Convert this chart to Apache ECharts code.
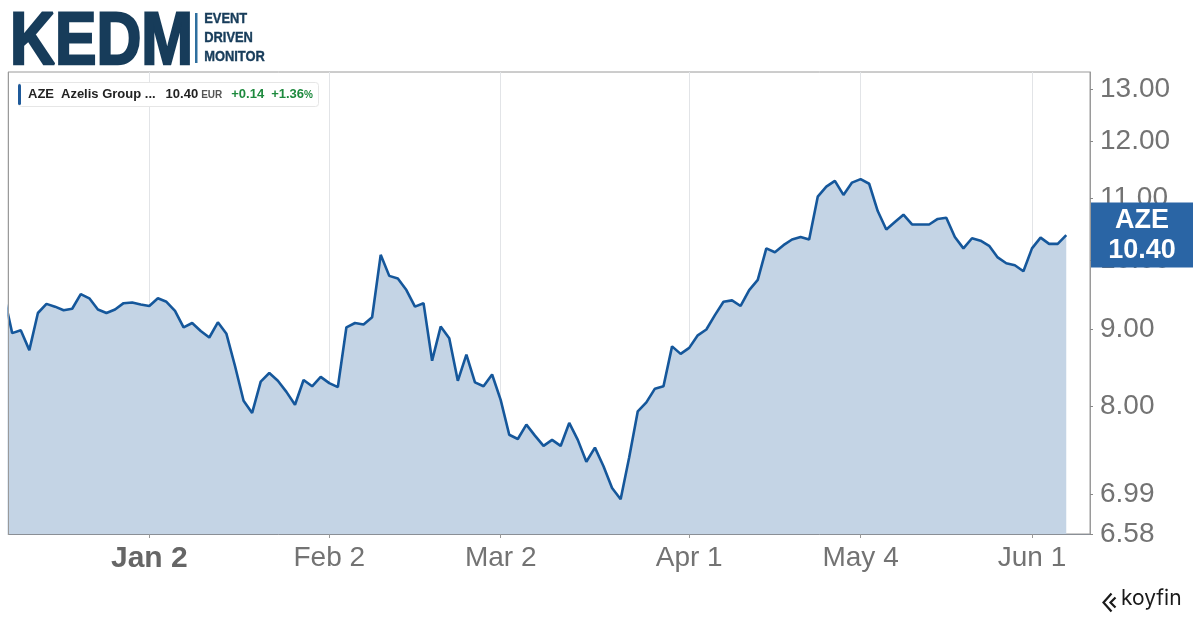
<!DOCTYPE html>
<html>
<head>
<meta charset="utf-8">
<script src="https://cdn.jsdelivr.net/npm/echarts@6/dist/echarts.min.js"></script>
<style>
html,body{margin:0;padding:0;background:#fff;}
#chart{width:1200px;height:620px;}
</style>
</head>
<body>
<div id="chart"></div>
<script>
// Trading-day closes (index = trading day, 0 = 5 Dec)
var prices = [
9.50, 8.95, 8.99, 8.72, 9.23, 9.36, 9.32, 9.27, 9.29, 9.50,
9.44, 9.28, 9.23, 9.28, 9.37, 9.38, 9.35, 9.33, 9.44, 9.39,
9.26, 9.03, 9.09, 8.98, 8.89, 9.10, 8.94, 8.51, 8.07, 7.92,
8.31, 8.42, 8.32, 8.18, 8.02, 8.33, 8.25, 8.37, 8.29, 8.24,
9.03, 9.09, 9.07, 9.17, 10.09, 9.77, 9.73, 9.56, 9.32, 9.37,
8.58, 9.04, 8.88, 8.32, 8.66, 8.30, 8.25, 8.40, 8.08, 7.66,
7.61, 7.78, 7.65, 7.53, 7.60, 7.53, 7.80, 7.60, 7.35, 7.51,
7.30, 7.06, 6.94, 7.40, 7.94, 8.05, 8.22, 8.25, 8.77, 8.67,
8.75, 8.92, 9.00, 9.20, 9.39, 9.41, 9.33, 9.56, 9.71, 10.19,
10.13, 10.24, 10.33, 10.37, 10.33, 11.03, 11.20, 11.30, 11.06, 11.27,
11.33, 11.25, 10.79, 10.49, 10.61, 10.73, 10.57, 10.57, 10.57, 10.66,
10.68, 10.37, 10.19, 10.35, 10.31, 10.23, 10.05, 9.96, 9.93, 9.84,
10.19, 10.36, 10.26, 10.26, 10.40
];
// x-axis labels and their trading-day index
var xTickLabels = ['Jan 2', 'Feb 2', 'Mar 2', 'Apr 1', 'May 4', 'Jun 1'];
var xTickIndex  = [17, 38, 58, 80, 100, 120];
var yearStartLabel = 'Jan 2';
// y-axis (log) tick labels
var yTicks = [6.58, 6.99, 8, 9, 10, 11, 12, 13];
var ticker = 'AZE';
var company = 'Azelis Group ...';
var currency = 'EUR';

var X_MIN = 0.51, X_MAX = 126.77;
var last = prices[prices.length - 1];
var prev = prices[prices.length - 2];
var chg = last - prev;
var pct = chg / prev * 100;

var seriesData = prices.map(function (v, i) { return [i, v]; });

var FONT = 'Liberation Sans, Arial, sans-serif';
var chart = echarts.init(document.getElementById('chart'), null, {renderer: 'canvas'});

var option = {
  backgroundColor: '#ffffff',
  animation: false,
  textStyle: {fontFamily: FONT},
  title: {
    left: 18, top: 82,
    padding: [2, 6, 2, 0],
    backgroundColor: '#ffffff',
    borderColor: '#e6e6e6', borderWidth: 1, borderRadius: 3,
    text: '{bar| }{t|' + ticker + '}{n|' + company + '}{p|' + last.toFixed(2) + '}{c|' + currency + '}{g|+' + chg.toFixed(2) + '}{g2|+' + pct.toFixed(2) + '}{pc|%}',
    textStyle: {
      fontFamily: FONT,
      rich: {
        bar: {width: 3, height: 21, backgroundColor: '#1f5a9a', borderRadius: 1.5},
        t: {fontFamily: FONT, fontSize: 13, fontWeight: 'bold', color: '#222', padding: [0, 0, 0, 7]},
        n: {fontFamily: FONT, fontSize: 13, fontWeight: 'bold', color: '#222', padding: [0, 0, 0, 7]},
        p: {fontFamily: FONT, fontSize: 13, fontWeight: 'bold', color: '#222', padding: [0, 0, 0, 10]},
        c: {fontFamily: FONT, fontSize: 10, color: '#555', padding: [2, 0, 0, 3]},
        g: {fontFamily: FONT, fontSize: 13, fontWeight: 'bold', color: '#1e8a3e', padding: [0, 0, 0, 9]},
        g2: {fontFamily: FONT, fontSize: 13, fontWeight: 'bold', color: '#1e8a3e', padding: [0, 0, 0, 7]},
        pc: {fontFamily: FONT, fontSize: 10, fontWeight: 'bold', color: '#1e8a3e', padding: [2, 0, 0, 0]}
      }
    }
  },
  grid: {
    left: 8, right: 110, top: 72, bottom: 86,
    show: true, borderColor: '#9a9a9a', borderWidth: 1, backgroundColor: 'transparent'
  },
  xAxis: {
    type: 'value',
    min: X_MIN, max: X_MAX,
    axisLine: {show: true, onZero: false, lineStyle: {color: '#8a8f96', width: 1}},
    axisTick: {show: true, length: 4, customValues: xTickIndex, lineStyle: {color: '#999'}},
    splitLine: {show: true, lineStyle: {color: '#e2e4e7', width: 1}},
    axisLabel: {
      customValues: xTickIndex,
      margin: 10,
      fontSize: 28, color: '#737373', fontFamily: FONT,
      formatter: function (v) {
        var k = xTickIndex.indexOf(Math.round(v));
        if (k < 0) return '';
        var s = xTickLabels[k];
        return s === yearStartLabel ? '{b|' + s + '}' : s;
      },
      rich: {b: {fontSize: 30, fontWeight: 'bold', color: '#666', fontFamily: FONT}}
    }
  },
  yAxis: {
    type: 'log',
    position: 'right',
    min: 6.58, max: 13.35,
    axisLine: {show: true, lineStyle: {color: '#9a9a9a'}},
    axisTick: {show: true, length: 3, customValues: yTicks, lineStyle: {color: '#888'}},
    splitLine: {show: false},
    minorTick: {show: false},
    axisLabel: {
      customValues: yTicks,
      margin: 10,
      fontSize: 28, color: '#737373', fontFamily: FONT,
      formatter: function (v) { return Number(v).toFixed(2); }
    }
  },
  series: [{
    type: 'line',
    data: seriesData,
    symbol: 'none',
    clip: true,
    lineStyle: {color: '#15579b', width: 2.6},
    areaStyle: {color: '#c4d4e5', opacity: 1, origin: 'start'}
  }, {
    type: 'scatter',
    data: [[X_MAX, last]],
    clip: false,
    symbolSize: 2,
    itemStyle: {color: 'rgba(0,0,0,0)'},
    z: 10,
    silent: true,
    label: {
      show: true,
      opacity: 1,
      position: 'right',
      distance: 0,
      backgroundColor: '#2a65a5',
      padding: [3, 0, 2, 0],
      formatter: function () { return '{a|' + ticker + '}\n{a|' + last.toFixed(2) + '}'; },
      rich: {a: {width: 102, align: 'center', fontSize: 27, fontWeight: 'bold', color: '#ffffff', lineHeight: 30, fontFamily: FONT}}
    }
  }],
  graphic: [
    {type: 'rect', left: 0, top: 66, z: 100, shape: {width: 7.5, height: 474}, style: {fill: '#ffffff'}},
    {type: 'line', z: 101, shape: {x1: 8.5, y1: 72, x2: 8.5, y2: 535}, style: {stroke: '#9a9a9a', lineWidth: 1}},
    {type: 'text', left: 9, top: 5, scaleX: 0.84, style: {text: 'KEDM', fontSize: 74, fontWeight: 900, fill: '#173c5a', stroke: '#173c5a', lineWidth: 2.5, fontFamily: FONT}},
    {type: 'rect', left: 195, top: 13, shape: {width: 2.5, height: 50}, style: {fill: '#2e6f9e'}},
    {type: 'text', left: 204, top: 9, scaleX: 0.86, style: {text: 'EVENT\nDRIVEN\nMONITOR', fontSize: 15, lineHeight: 19, fontWeight: 'bold', fill: '#173c5a', stroke: '#173c5a', lineWidth: 0.4, fontFamily: FONT}},
    {type: 'polyline', left: 1101, top: 591, shape: {points: [[9, 0], [1, 9], [9, 18]]}, style: {stroke: '#1a1a1a', lineWidth: 2.2, fill: null}},
    {type: 'polyline', left: 1108, top: 595, shape: {points: [[8, 0], [3, 5], [8, 10]]}, style: {stroke: '#1a1a1a', lineWidth: 2.2, fill: null}},
    {type: 'text', left: 1121, top: 588, style: {text: 'koyfin', fontSize: 21, fill: '#1a1a1a', fontFamily: 'Inter, Roboto, sans-serif'}}
  ]
};
chart.setOption(option);
</script>
</body>
</html>
